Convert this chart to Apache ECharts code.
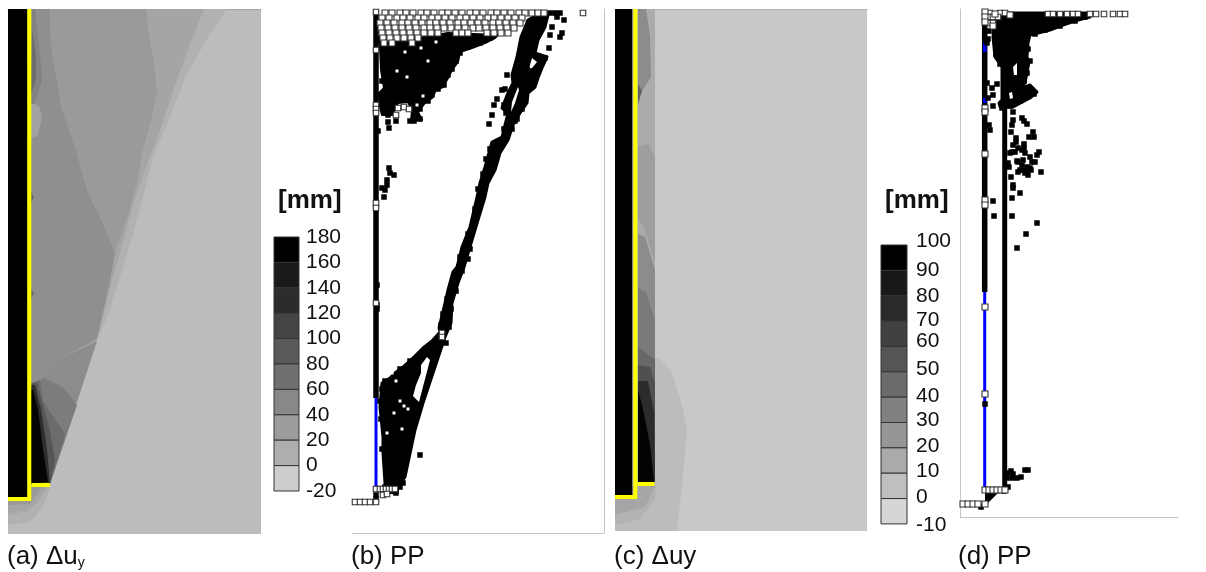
<!DOCTYPE html>
<html><head><meta charset="utf-8">
<style>html,body{margin:0;padding:0;background:#fff}#c{width:1206px;height:572px;filter:blur(0.5px)}</style>
<script src="https://cdn.jsdelivr.net/npm/echarts@6/dist/echarts.min.js"></script>
</head><body><div id="c"></div>
<script>
// All coordinates are model units: x from the panel's left edge, depth from its top.
// ---------- legend values ----------
const legendATicks = [180,160,140,120,100,80,60,40,20,0,-20];
const legendCTicks = ['100','90','80','70','60','50','40','30','20','10','0','-10'];
const legendCEdges = [100,90,80,70,60,50,40,30,20,10,0,-10];
const legendCLabelAt = [101.6,90.1,79.9,70.4,62.1,51.1,40.5,31,20.7,10.9,0.6,-10.4];
// ---------- panel (a) contour regions ----------
const aOuter = [[219,0],[205,20],[179,64],[159,115],[145,148],[135,188],[125,225],[112,268],[102,301],[89,332],[42,475],[23,475],[23,0]];
const aSecond = [[196,0],[182,35],[165,82],[149,130],[135,166],[125,195],[115,232],[105,268],[92,320],[88,332],[42,475],[23,475],[23,0]];
const aCentral = [[42,0],[138,0],[140,20],[147,60],[149,84],[142,115],[134,144],[130,170],[120,206],[107,243],[95,214],[80,184],[69,144],[54,100],[45,49],[42,20]];
const aLeft = [[23,0],[42,0],[42,20],[45,49],[54,100],[69,144],[80,184],[95,214],[107,243],[102,272],[89,330],[52,350],[32,371],[24,374],[23,374]];
const aWedge0 = [[89,332],[52,350],[32,371],[24,374],[23,475],[42,475]];
const aWedge1 = [[35,369],[55,378],[69,396],[42,475],[23,475],[24,374],[32,371]];
const aWedge2 = [[32,371],[35,392],[45,407],[57,425],[42,475],[23,475],[24,374]];
const aWedge3 = [[29,374],[34,392],[42,422],[47,451],[42,475],[23,475],[23,374]];
const aWedge4 = [[27,376],[33,400],[39,440],[42,475],[23,475],[23,376]];
const aWedge5 = [[25,381],[30,400],[34,433],[40,473],[23,475],[23,381]];
const aTopPatch = [[24,0],[27,0],[32,46],[34,71],[27,93],[23,97]];
const aTopCore = [[24,20],[28,46],[28,70],[23,85]];
const aLightPatch = [[27,95],[31,97],[34,108],[30,126],[23,130],[23,95]];
const aNick1 = [[23,183],[26,188],[23,194]];
const aNick2 = [[23,280],[26,284],[23,290]];
const aUnder0 = [[0,516],[22,513],[35,498],[42,480],[42,475],[23,475],[23,488],[0,488]];
const aUnder1 = [[0,506],[19,502],[30,493],[37,482],[41,476],[23,476],[23,488],[0,488]];
const aUnder2 = [[0,496],[22,495],[30,484],[34,478],[23,476],[23,488],[0,488]];
const aWall = [[0,0],[19.5,0],[19.5,488],[0,488]];
const aYellowMain = [[21.3,0],[21.3,490],[0,490]];
const aYellowToe = [[23.5,476],[42,476]];
// ---------- panel (b) points ----------
const bWhiteRows = [
 [4,[33,40,48,54,61,69,75,82,90,96,103,110,118,124,131,139,145,152,159,167,173,180,186,192]],
 [9,[30,37,45,51,58,66,72,80,86,93,100,108,114,121,128,136,142,149,156,163,170]],
 [14,[28,35,42,50,56,63,70,78,84,91,98,106,112,119,126,133,141,147,154,161,168]],
 [19,[29,36,43,50,57,64,72,78,85,92,99,106,113,121,127,134,141,148,155,162]],
 [24,[30,37,44,51,58,65,72,79,86,104,110,116,135,142,149,156]],
 [29,[31,38,45,52,59,66]],
 [34,[32,40,60]]
];
const bWhiteOther = [[231,4],[24,3],[24,96],[24,100],[24,104],[46,99],[52,98],[44,106],[57,100],[24,41],[24,194],[24,199],[24,294],[90,324],[90,328],
 [3,493],[8,493],[13,493],[18,493],[24,493],[24,480],[28,480],[31,480],[34,480],[37,480],[40,480],[43,480],[31,486],[35,485]];
const bBlackPoints = [[212,11],[198,26],[210,24],[208,28],[197,39],[200,18],[193,49],[198,4],[203,4],[208,4],[205,8],
 [155,66],[150,81],[153,80],[145,90],[142,96],[140,106],[137,115],
 [36,113],[37,119],[26,122],[37,159],[38,164],[42,166],[35,171],[35,176],[33,181],[30,179],[32,188],
 [94,334],[68,446],[25,276],[25,296],[25,300],
 [138,29],[128,34],[116,38],[108,44],[104,52],[100,60],[96,66],[92,76],[86,80],[80,86],[76,92],[68,100],[68,110],[62,112],[58,112],
 [30,72],[34,84],[40,88],[32,100],[36,106],[44,112],
 [24,486],[24,490],[44,484],[48,478],[51,474],
 [33,372],[30,380],[28,392],[29,410],[30,440],[33,478],[90,333],[58,352],[48,360],
 [118,240],[116,250],[110,262],[104,282],[99,300],[97,318],[108,248],[102,268],[95,290],[91,305],[89,316],[116,225],[123,200],[126,180],[131,165],[134,150],[138,140],[146,135],[152,120],[159,108],[170,100],[163,112],
 [172,88],[178,72],[156,90],[152,96],[154,104],[170,92],[180,62],[168,96],[175,60],[172,72],[165,110],[160,120],[170,40],[175,25],[186,12],[185,22],[176,40]];
const bHoles = [[69,39],[53,43],[84,33],[45,62],[76,52],[71,87],[65,96],[55,68],[40,364],[44,372],[48,392],[52,397],[35,424],[50,420],[56,400],[42,404]];
const bUpperCloud = [[26,28],[40,33],[66,29],[96,24],[146,26],[143,29],[133,34],[120,39],[108,43],[106,53],[100,61],[96,69],[91,78],[84,81],[80,89],[73,94],[66,103],[70,111],[59,112],[60,101],[56,93],[46,94],[40,106],[30,106],[28,98],[27,84],[32,79],[29,61],[28,38]];
const bSlipBand = [[196,6],[193,18],[186,31],[183,44],[195,48],[190,59],[186,69],[183,78],[176,84],[175,94],[168,104],[161,116],[156,131],[148,144],[143,161],[136,174],[133,188],[126,211],[120,231],[112,258],[106,274],[100,294],[99,314],[93,328],[71,394],[63,421],[53,468],[46,478],[45,484],[33,483],
 [33,474],[31,444],[31,428],[28,398],[30,374],[38,369],[43,364],[51,358],[63,347],[71,339],[80,332],[88,323],[87,319],[93,294],[96,281],[101,263],[105,258],[110,238],[118,218],[125,188],[128,174],[133,158],[140,133],[150,128],[156,104],[150,99],[156,84],[161,74],[160,66],[165,48],[169,28],[176,11],[190,3]];
const bHoleLower = [[75,348],[69,356],[69,364],[64,376],[61,387],[67,393],[78,351]];
const bHoleStrands = [[166,78],[160,93],[159,103],[163,94],[167,81]];
const bHoleUpper = [[180,49],[185,53],[180,59],[176,63]];
const bWallBlack = [[24,1],[24,389]];
const bWallBlue = [[24,389],[24,478]];
// ---------- panel (c) contour regions ----------
const cBulge = [[40,0],[40,349],[45,350],[57,363],[68,400],[72,422],[68,466],[62,522],[0,522],[0,0]];
const cStrip = [[23,0],[40,0],[40,349],[23,349]];
const cTopPatch = [[23,0],[31,0],[35,27],[36,68],[27,82],[23,85]];
const cTopCore = [[23,75],[27,82],[23,95]];
const cMid1 = [[23,137],[33,135],[40,148],[40,255],[30,221],[23,210]];
const cMid2 = [[23,225],[30,228],[40,261],[40,335],[23,309]];
const cMid3 = [[23,279],[31,283],[40,312],[40,350],[23,338]];
const cLow1 = [[23,338],[40,350],[40,473],[23,473]];
const cLow2 = [[23,356],[35,358],[40,374],[40,473],[23,473]];
const cLow3 = [[23,372],[33,372],[39,403],[40,473],[23,473]];
const cLow4 = [[23,381],[28,400],[35,436],[39,473],[23,473]];
const cUnder0 = [[0,516],[25,510],[40,490],[42,476],[23,474],[0,488]];
const cUnder1 = [[0,506],[30,498],[40,478],[40,474],[23,474],[0,488]];
const cWall = [[0,0],[17.3,0],[17.3,487],[0,487]];
const cYellowMain = [[20.3,0],[20.3,488],[0,488]];
const cYellowToe = [[22.3,475],[39.5,475]];
// ---------- panel (d) points ----------
const dBlackPoints = [[53,103],[53,111],[52,116],[62,109],[64,112],[67,115],[51,123],[73,123],[69,128],[74,128],[56,129],[53,136],[64,135],[50,144],[55,143],[62,141],[70,148],[79,143],[77,146],[48,154],[57,152],[63,151],[72,153],[75,153],[60,161],[65,164],[68,166],[71,161],[81,163],[51,168],[53,176],[53,179],[60,184],[52,189],[33,192],[34,207],[52,207],[77,214],[66,225],[57,239],
 [58,153],[62,156],[67,158],[70,159],[64,161],[67,163],[58,163],[49,158],[52,143],[58,139],[64,139],[65,144],[56,133],
 [27,74],[32,79],[37,75],[33,86],[28,89],[33,97],[29,116],[30,121],[29,22],[28,30],[27,34],
 [48,464],[51,462],[53,465],[47,469],[52,469],[57,469],[61,468],[65,461],[68,461],[25,395],[21,498],[44,482],[48,478],
 [72,24],[75,25],[85,21],[100,17],[115,12],[125,8],[68,40],[70,52],[67,64],[64,72],[38,30],[36,45],[40,55],[45,70],[44,85],[66,80],[74,85],[60,92],[50,97],[42,99]];
const dWhiteRows = [
 [5,[88,93,100,107,113,118,130,136,144,153,160,165]],
 [4,[30,40,45]],
 [8,[29,33,38]],
 [14,[29,33]]
];
const dWhiteOther = [[25,3],[35,5],[50,6],[25,8],[25,13],[33,17],[25,99],[25,103],[25,145],[25,191],[25,196],[25,298],[25,385],
 [3,495],[8,495],[13,495],[18,495],[25,495],[25,481],[29,481],[33,481],[37,481],[41,481],[45,481]];
const dCloud = [[35,4],[130,4],[130,8],[118,11],[103,16],[90,21],[70,26],[68,34],[67,48],[69,53],[65,74],[60,79],[58,81],[70,76],[77,83],[70,89],[53,98],[40,98],[39,94],[42,91],[42,58],[35,48],[33,28]];
const dToeWedge = [[25,484],[38,484],[28,494],[25,494]];
const dHole1 = [[53,58],[57,54],[57,66],[54,66]];
const dHole2 = [[49,84],[52,83],[53,89],[50,90]];
const dWallBlack = [[24.7,1],[24.7,283]];
const dWallBlue = [[24.7,283],[24.7,479]];
const dBlueBits = [[[24.7,34],[24.7,43]],[[24.7,89],[24.7,94]],[[24.7,188],[24.7,191]],[[24.7,0],[24.7,2]]];
const dPileSecond = [[44.7,50],[44.7,479]];

// ---------- helpers ----------
const FONT = '"Liberation Sans", Arial, sans-serif';
const series = [];
function poly(g, pts, fill, edge){
  series.push({type:'custom',coordinateSystem:'cartesian2d',xAxisIndex:g,yAxisIndex:g,silent:true,clip:true,
    data:pts,encode:{x:0,y:1},
    renderItem(p,api){ if(p.dataIndex!==0) return; 
      return {type:'polygon',shape:{points:pts.map(q=>api.coord(q))},style:{fill:fill,stroke:edge?fill:null,lineWidth:edge||0,lineJoin:'round'}}; }});
}
function line(g, pts, color, w){
  series.push({type:'line',xAxisIndex:g,yAxisIndex:g,data:pts,symbol:'none',silent:true,
    lineStyle:{color:color,width:w,cap:'butt',join:'miter'}});
}
function dots(g, pts, fill, size, border){
  series.push({type:'scatter',xAxisIndex:g,yAxisIndex:g,data:pts,symbol:'rect',symbolSize:size,silent:true,z:border?6:5,
    itemStyle:{color:fill,opacity:1,borderColor:border||fill,borderWidth:border?1.1:0}});
}
const rows = r => r.flatMap(([d,xs])=>xs.map(x=>[x,d]));
function cells(g, edges, colors){
  const data = edges.slice(0,-1).map((v,i)=>[v,edges[i+1]]);
  series.push({type:'custom',coordinateSystem:'cartesian2d',xAxisIndex:g,yAxisIndex:g,silent:true,
    data:data,encode:{y:[0,1]},
    renderItem(p,api){
      const a=api.coord([0,api.value(0)]), b=api.coord([1,api.value(1)]);
      return {type:'rect',shape:{x:a[0],y:a[1],width:b[0]-a[0],height:b[1]-a[1]},
        style:{fill:colors[p.dataIndex],stroke:'#333',lineWidth:1}};
    }});
}
// panel (a)
poly(0,aOuter,'#b1b1b1'); poly(0,aSecond,'#a5a5a5'); poly(0,aLeft,'#8f8f8f'); poly(0,aCentral,'#9a9a9a');
poly(0,aWedge0,'#8c8c8c'); poly(0,aWedge1,'#7c7c7c'); poly(0,aWedge2,'#6c6c6c'); poly(0,aWedge3,'#565656'); poly(0,aWedge4,'#2e2e2e'); poly(0,aWedge5,'#050505');
poly(0,aTopPatch,'#828282'); poly(0,aTopCore,'#6c6c6c'); poly(0,aLightPatch,'#a2a2a2'); poly(0,aNick1,'#6a6a6a'); poly(0,aNick2,'#6a6a6a');
poly(0,aUnder0,'#b1b1b1'); poly(0,aUnder1,'#a6a6a6'); poly(0,aUnder2,'#9a9a9a'); poly(0,aWall,'#000');
line(0,aYellowMain,'#ffff00',4); line(0,aYellowToe,'#ffff00',4);
// panel (b)
poly(1,bUpperCloud,'#000',2); poly(1,bSlipBand,'#000',3);
poly(1,bHoleLower,'#fff'); poly(1,bHoleStrands,'#fff'); poly(1,bHoleUpper,'#fff');
line(1,bWallBlack,'#000',5.5); line(1,bWallBlue,'#0000ff',3);
dots(1,bBlackPoints,'#000',5.5); dots(1,bHoles,'#fff',3);
dots(1,rows(bWhiteRows),'#fff',6,'#333'); dots(1,bWhiteOther,'#fff',5.5,'#333');
// panel (c)
poly(2,cBulge,'#bcbcbc'); poly(2,cStrip,'#ababab'); poly(2,cTopPatch,'#8c8c8c'); poly(2,cTopCore,'#5f5f5f');
poly(2,cMid1,'#9e9e9e'); poly(2,cMid2,'#8c8c8c'); poly(2,cMid3,'#7a7a7a'); poly(2,cLow1,'#686868'); poly(2,cLow2,'#505050'); poly(2,cLow3,'#2c2c2c'); poly(2,cLow4,'#030303');
poly(2,cUnder0,'#b3b3b3'); poly(2,cUnder1,'#a6a6a6'); poly(2,cWall,'#000');
line(2,cYellowMain,'#ffff00',4); line(2,cYellowToe,'#ffff00',4);
// panel (d)
poly(3,dCloud,'#000',3); poly(3,dToeWedge,'#000'); poly(3,dHole1,'#fff'); poly(3,dHole2,'#fff');
line(3,dPileSecond,'#000',5); line(3,dWallBlack,'#000',5.5); line(3,dWallBlue,'#0000ff',3);
dBlueBits.forEach(b=>line(3,b,'#0000ff',3.5));
dots(3,dBlackPoints,'#000',5.5); dots(3,rows(dWhiteRows),'#fff',5.5,'#333'); dots(3,dWhiteOther,'#fff',6,'#333');
// legends
cells(4,legendATicks,['#000','#1a1a1a','#2c2c2c','#444','#5a5a5a','#707070','#888','#9c9c9c','#aeaeae','#cdcdcd']);
cells(5,legendCEdges,['#000','#181818','#2a2a2a','#414141','#555','#6b6b6b','#808080','#969696','#aaa','#bfbfbf','#d6d6d6']);

const hidden = {show:false};
const frameLine = {show:true,onZero:false,lineStyle:{color:'#c4c4c4',width:1}};
const x = (w,extra)=>Object.assign({type:'value',min:0,max:w,axisTick:hidden,axisLabel:hidden,splitLine:hidden,axisLine:hidden,position:'bottom'},extra);
const y = (h,extra)=>Object.assign({type:'value',min:0,max:h,inverse:true,axisTick:hidden,axisLabel:hidden,splitLine:hidden,axisLine:hidden},extra);
const labelMap = new Map(legendCLabelAt.map((v,i)=>[v,legendCTicks[i]]));
const caption = (text,left)=>({text,left,top:544,padding:0,textStyle:{fontFamily:FONT,fontWeight:'normal',fontSize:26,color:'#111',
   rich:{s:{fontFamily:FONT,fontSize:14,color:'#111',verticalAlign:'bottom',padding:[10,0,0,0]}}}});
const mm = left=>({text:'[mm]',left,top:188,padding:0,textStyle:{fontFamily:FONT,fontWeight:'bold',fontSize:26,color:'#111'}});
const option = {
  animation:false,backgroundColor:'#fff',
  title:[caption('(a) Δu{s|y}',7),caption('(b) PP',351),caption('(c) Δuy',614),caption('(d) PP',958),mm(278),mm(885)],
  grid:[
    {left:8,top:9,width:253,height:525,show:true,backgroundColor:'#bcbcbc',borderWidth:0},
    {left:352,top:9,width:252,height:524},
    {left:615,top:9,width:252,height:522,show:true,backgroundColor:'#c8c8c8',borderWidth:0},
    {left:960,top:9,width:218,height:508},
    {left:274,top:237,width:25,height:254},
    {left:881,top:237.4,width:26,height:291.6}
  ],
  xAxis:[
    x(253,{gridIndex:0,axisLine:{show:true,lineStyle:{color:'#a4a4a4'}}}),
    x(252,{gridIndex:1,axisLine:frameLine}),
    x(252,{gridIndex:2,axisLine:{show:true,lineStyle:{color:'#b4b4b4'}}}),
    x(218,{gridIndex:3,axisLine:frameLine}),
    x(1,{gridIndex:4}),x(1,{gridIndex:5})
  ],
  yAxis:[
    y(525,{gridIndex:0}),
    y(524,{gridIndex:1,position:'right',axisLine:frameLine}),
    y(522,{gridIndex:2}),
    y(508,{gridIndex:3,position:'left',axisLine:frameLine}),
    {gridIndex:4,type:'value',min:-20,max:180,interval:20,position:'right',splitLine:hidden,axisLine:hidden,axisTick:hidden,
      axisLabel:{show:true,margin:7,fontFamily:FONT,fontSize:21,color:'#111',padding:[0,0,14,0],showMinLabel:true,showMaxLabel:true}},
    {gridIndex:5,type:'value',min:-12,max:103,position:'right',splitLine:hidden,axisLine:hidden,axisTick:hidden,
      axisLabel:{show:true,margin:9,fontFamily:FONT,fontSize:21,color:'#111',customValues:legendCLabelAt,
        formatter:v=>labelMap.get(v)}}
  ],
  series
};
const chart = echarts.init(document.getElementById('c'),null,{renderer:'canvas'});
chart.setOption(option);
</script></body></html>
